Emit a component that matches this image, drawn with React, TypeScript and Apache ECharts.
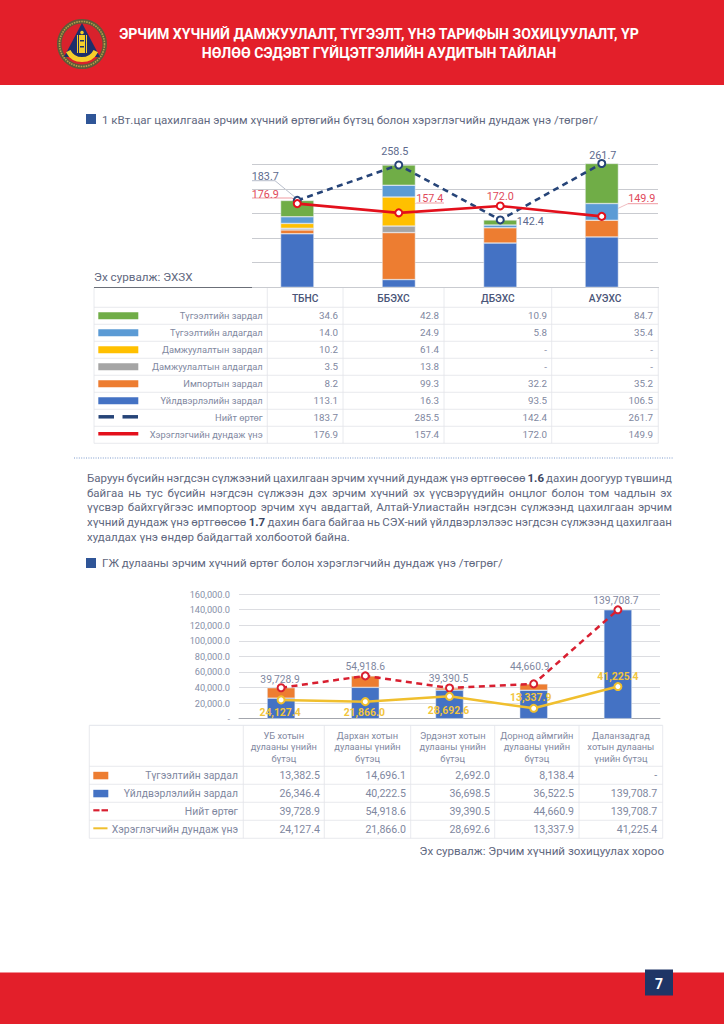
import React, { useEffect, useRef } from "react";
import * as echarts from "echarts";

const FONT = "Roboto";
const INK = "#7f889f";
const DARK = "#5f6880";

// ---- chart 1 data
const plants = ["ТБНС", "ББЭХС", "ДБЭХС", "АУЭХС"];
const supplyCost = [34.6, 42.8, 10.9, 84.7];
const supplyLoss = [14.0, 24.9, 5.8, 35.4];
const transCost = [10.2, 61.4, null, null];
const transLoss = [3.5, 13.8, null, null];
const importCost = [8.2, 99.3, 32.2, 35.2];
const prodCost = [113.1, 16.3, 93.5, 106.5];
const totalCost = [183.7, 258.5, 142.4, 261.7];
const totalCostTable = [183.7, 285.5, 142.4, 261.7];
const avgPrice = [176.9, 157.4, 172.0, 149.9];

// ---- chart 2 data
const heatHeaders = [
  ["УБ хотын", "дулааны үнийн", "бүтэц"],
  ["Дархан хотын", "дулааны үнийн", "бүтэц"],
  ["Эрдэнэт хотын", "дулааны үнийн", "бүтэц"],
  ["Дорнод аймгийн", "дулааны үнийн", "бүтэц"],
  ["Даланзадгад", "хотын дулааны", "үнийн бүтэц"],
];
const heatSupply = [13382.5, 14696.1, 2692.0, 8138.4, null];
const heatProd = [26346.4, 40222.5, 36698.5, 36522.5, 139708.7];
const heatTotal = [39728.9, 54918.6, 39390.5, 44660.9, 139708.7];
const heatAvg = [24127.4, 21866.0, 28692.6, 13337.9, 41225.4];

// ---- text
const TITLE = [
  "ЭРЧИМ ХҮЧНИЙ ДАМЖУУЛАЛТ, ТҮГЭЭЛТ, ҮНЭ ТАРИФЫН ЗОХИЦУУЛАЛТ, ҮР",
  "НӨЛӨӨ СЭДЭВТ ГҮЙЦЭТГЭЛИЙН АУДИТЫН ТАЙЛАН",
];
const HEAD1 = "1 кВт.цаг цахилгаан эрчим хүчний өртөгийн бүтэц болон хэрэглэгчийн дундаж үнэ /төгрөг/";
const HEAD2 = "ГЖ дулааны эрчим хүчний өртөг болон хэрэглэгчийн дундаж үнэ /төгрөг/";
const PARAGRAPH = [
  "Баруун бүсийн нэгдсэн сүлжээний цахилгаан эрчим хүчний дундаж үнэ өртгөөсөө 1.6 дахин доогуур түвшинд",
  "байгаа нь тус бүсийн нэгдсэн сүлжээн дэх эрчим хүчний эх үүсвэрүүдийн онцлог болон том чадлын эх",
  "үүсвэр байхгүйгээс импортоор эрчим хүч авдагтай, Алтай-Улиастайн нэгдсэн сүлжээнд цахилгаан эрчим",
  "хүчний дундаж үнэ өртгөөсөө 1.7 дахин бага байгаа нь СЭХ-ний үйлдвэрлэлээс нэгдсэн сүлжээнд цахилгаан",
  "худалдах үнэ өндөр байдагтай холбоотой байна.",
];
const BOLD_WORDS = ["1.6", "1.7"];

// ---- label placement (styling only)
const totalOffsets = [[-32, -14], [-4, -3.5], [30, 11.6], [1, 2]];
const avgOffsets = [[-32, 0.7], [31, -4.4], [0, 0.6], [40, -7.9]];
const heatTotalOffsets = [[-1, 1.3], [0, 0.1], [-1, 0], [-4, -7.9], [-2, 0.2]];
const heatAvgOffsets = [[-1, 22.6], [-1, 20.3], [-1, 23.5], [-3, -1.3], [0, -0.6]];

const C = {
  green: "#70ad47", lblue: "#5b9bd5", yellow: "#ffc000", grey: "#a5a5a5",
  orange: "#ed7d31", blue: "#4472c4", navy: "#264478", red: "#e3101c",
  gold: "#f0bf2e", crimson: "#d81f30",
};

const fmt1 = (v: number | null) => (v == null ? "-" : v.toFixed(1));
const fmtK = (v: number | null) =>
  v == null ? "-" : v.toLocaleString("en-US", { minimumFractionDigits: 1, maximumFractionDigits: 1 });

function txt(x: number, y: number, text: string, o: any = {}) {
  return {
    type: "text", x, y, silent: true,
    style: {
      text, fontFamily: FONT, fontSize: o.size ?? 10, fontWeight: o.weight ?? 400,
      fill: o.color ?? INK, align: o.align ?? "left", verticalAlign: "middle",
    },
  };
}
const rect = (x: number, y: number, w: number, h: number, fill: string) => ({
  type: "rect", silent: true, shape: { x, y, width: w, height: h }, style: { fill },
});
const line = (x1: number, y1: number, x2: number, y2: number, stroke: string, lineWidth = 0.8, lineDash?: number[]) => ({
  type: "line", silent: true, shape: { x1, y1, x2, y2 }, style: { stroke, lineWidth, lineDash },
});
const poly = (points: number[][], stroke = "#9aa2b5") => ({
  type: "polyline", silent: true, shape: { points }, style: { stroke, lineWidth: 0.7, fill: "none" },
});

function justified(lines: string[], x0: number, x1: number, yTop: number, step: number, size: number) {
  const ctx = document.createElement("canvas").getContext("2d") as CanvasRenderingContext2D;
  const out: any[] = [];
  lines.forEach((ln, i) => {
    const words = ln.split(" ");
    const widths = words.map((w) => {
      ctx.font = `${BOLD_WORDS.includes(w) ? 700 : 400} ${size}px ${FONT}`;
      return ctx.measureText(w).width;
    });
    const sum = widths.reduce((a, b) => a + b, 0);
    ctx.font = `400 ${size}px ${FONT}`;
    const space = ctx.measureText(" ").width;
    const last = i === lines.length - 1;
    const gap = last ? space : (x1 - x0 - sum) / (words.length - 1);
    let x = x0;
    words.forEach((w, k) => {
      const b = BOLD_WORDS.includes(w);
      out.push(txt(x, yTop + i * step, w, { size, color: b ? "#3b4560" : DARK, weight: b ? 700 : 400 }));
      x += widths[k] + gap;
    });
  });
  return out;
}

function buildGraphic() {
  const g: any[] = [];
  // header, footer
  g.push(rect(0, 0, 724, 85, "#e31f2a"));
  g.push(rect(0, 972.5, 724, 52, "#e31f2a"));
  g.push(rect(645, 969.5, 28, 26, "#1f3566"));
  g.push(txt(659, 984, "7", { size: 14, weight: 700, color: "#ffffff", align: "center" }));
  TITLE.forEach((t, i) =>
    g.push(txt(379, 34 + i * 19, t, { size: 14.1, weight: 700, color: "#ffffff", align: "center" })));

  // emblem
  const cx = 82, cy = 44;
  g.push({ type: "circle", silent: true, shape: { cx, cy, r: 25 }, style: { fill: "#5f5a38" } });
  g.push({ type: "circle", silent: true, shape: { cx, cy, r: 22.5 }, style: { fill: "none", stroke: "#b5a24a", lineWidth: 1.6, lineDash: [1.5, 1] } });
  g.push({ type: "circle", silent: true, shape: { cx, cy, r: 20.5 }, style: { fill: "#d8222c" } });
  g.push({ type: "polygon", silent: true, shape: { points: [[cx, cy - 21], [cx + 18, cy + 13], [cx - 18, cy + 13]] }, style: { fill: "#1d2f6b" } });
  g.push({ type: "arc", silent: true, shape: { cx, cy, r: 15.5, startAngle: Math.PI * 0.15, endAngle: Math.PI * 0.85, clockwise: true }, style: { stroke: "#f5cf2a", lineWidth: 5, fill: "none" } });
  g.push(rect(cx - 3, cy - 9, 6, 18, "#f5cf2a"));
  g.push(rect(cx - 5, cy - 9, 1, 18, "#f5cf2a"));
  g.push(rect(cx + 4, cy - 9, 1, 18, "#f5cf2a"));
  g.push({ type: "circle", silent: true, shape: { cx, cy: cy - 11.5, r: 1.8 }, style: { fill: "#f5cf2a" } });
  g.push(rect(cx - 2, cy - 4, 4, 1.5, "#1d2f6b"));
  g.push(rect(cx - 2, cy + 2, 4, 1.5, "#1d2f6b"));

  // headings
  g.push(rect(86, 114, 10, 10, "#2f5597"));
  g.push(txt(102, 120, HEAD1, { size: 11.55, color: DARK }));
  g.push(rect(86, 558, 10, 10, "#2f5597"));
  g.push(txt(102, 563, HEAD2, { size: 11.55, color: DARK }));
  g.push(txt(94, 277, "Эх сурвалж: ЭХЗХ", { size: 11.7, color: DARK }));

  // ---- table 1
  const cols1 = [94, 267.3, 343, 444, 551.7, 658.3];
  const rowTop1 = 307.3, rowH1 = 17, border = "#e2e4ea";
  const rows1: { label: string; vals: (number | null)[]; kind: string; color: string }[] = [
    { label: "Түгээлтийн зардал", vals: supplyCost, kind: "bar", color: C.green },
    { label: "Түгээлтийн алдагдал", vals: supplyLoss, kind: "bar", color: C.lblue },
    { label: "Дамжуулалтын зардал", vals: transCost, kind: "bar", color: C.yellow },
    { label: "Дамжуулалтын алдагдал", vals: transLoss, kind: "bar", color: C.grey },
    { label: "Импортын зардал", vals: importCost, kind: "bar", color: C.orange },
    { label: "Үйлдвэрлэлийн зардал", vals: prodCost, kind: "bar", color: C.blue },
    { label: "Нийт өртөг", vals: totalCostTable, kind: "dash", color: C.navy },
    { label: "Хэрэглэгчийн дундаж үнэ", vals: avgPrice, kind: "line", color: C.red },
  ];
  cols1.forEach((x) => g.push(line(x, 287.5, x, rowTop1 + 8 * rowH1, border)));
  for (let i = 0; i <= 8; i++) g.push(line(94, rowTop1 + i * rowH1, 658.3, rowTop1 + i * rowH1, border));
  g.push(line(94, 287.5, 658.3, 287.5, "#6b6f78", 1));
  plants.forEach((p, i) =>
    g.push(txt((cols1[i + 1] + cols1[i + 2]) / 2, 298, p, { size: 10.2, weight: 500, color: "#4a5578", align: "center" })));
  rows1.forEach((r, i) => {
    const cy = rowTop1 + (i + 0.5) * rowH1;
    if (r.kind === "bar") g.push(rect(98.3, cy - 3.5, 40, 7, r.color));
    else if (r.kind === "dash") {
      g.push(line(98.5, cy - 1, 114, cy - 1, r.color, 3.5));
      g.push(line(122.5, cy - 1, 138, cy - 1, r.color, 3.5));
    } else g.push(line(98.3, cy - 1, 138.3, cy - 1, r.color, 3.5));
    g.push(txt(262.7, cy, r.label, { size: 9.3, align: "right" }));
    r.vals.forEach((v, k) => {
      const right = [338, 439, 547, 653][k];
      g.push(txt(right, cy, fmt1(v), { size: 9.8, align: "right" }));
    });
  });

  // leader lines chart 1
  g.push(poly([[252, 180.7], [275, 180.7], [296, 198]]));
  g.push(poly([[252, 198], [292, 198], [297, 202]], "#e8707a"));
  g.push(poly([[416.7, 203], [444, 203]], "#e8707a"));
  g.push(poly([[416.7, 203], [399, 212]], "#e8a0a6"));
  g.push(poly([[628, 203.7], [658, 203.7]], "#e8707a"));
  g.push(poly([[628, 203.7], [604, 215]], "#e8a0a6"));

  // dotted separator and paragraph
  g.push(line(74, 458, 674, 458, "#7e9bcc", 1.2, [1, 1.4]));
  g.push(...justified(PARAGRAPH, 87, 672, 478, 14.7, 11.5));

  // ---- table 2
  const cols2 = [89.3, 243.3, 324.3, 410.7, 494.7, 579, 662.7];
  const rights2 = [320, 406, 490, 574, 657.3];
  const top2 = 725.3, headBottom = 766.3, rowH2 = 18;
  cols2.forEach((x) => g.push(line(x, top2, x, headBottom + 4 * rowH2, border)));
  g.push(line(89.3, top2, 662.7, top2, border, 1));
  for (let i = 0; i <= 4; i++) g.push(line(89.3, headBottom + i * rowH2, 662.7, headBottom + i * rowH2, border));
  heatHeaders.forEach((h, i) => h.forEach((t, k) =>
    g.push(txt((cols2[i + 1] + cols2[i + 2]) / 2, 735 + k * 11.7, t, { size: 9.3, align: "center" }))));
  const rows2: { label: string; vals: (number | null)[]; kind: string; color: string }[] = [
    { label: "Түгээлтийн зардал", vals: heatSupply, kind: "bar", color: C.orange },
    { label: "Үйлдвэрлэлийн зардал", vals: heatProd, kind: "bar", color: C.blue },
    { label: "Нийт өртөг", vals: heatTotal, kind: "dash", color: C.crimson },
    { label: "Хэрэглэгчийн дундаж үнэ", vals: heatAvg, kind: "line", color: C.gold },
  ];
  rows2.forEach((r, i) => {
    const cy = headBottom + (i + 0.5) * rowH2;
    if (r.kind === "bar") g.push(rect(93.3, cy - 3.5, 15, 7.5, r.color));
    else if (r.kind === "dash") {
      g.push(line(93.3, cy - 1, 99.5, cy - 1, r.color, 2.2));
      g.push(line(101.5, cy - 1, 108, cy - 1, r.color, 2.2));
    } else g.push(line(93.3, cy - 1, 107.5, cy - 1, r.color, 2));
    g.push(txt(238, cy, r.label, { size: 10.4, align: "right" }));
    r.vals.forEach((v, k) => g.push(txt(rights2[k], cy, fmtK(v), { size: 10.6, align: "right" })));
  });
  g.push(txt(664, 851, "Эх сурвалж: Эрчим хүчний зохицуулах хороо", { size: 11.6, color: DARK, align: "right" }));
  return g;
}

const stack = (name: string, data: (number | null)[], color: string, axis: number) => ({
  name, type: "bar", stack: "s" + axis, xAxisIndex: axis, yAxisIndex: axis, data,
  barWidth: axis === 1 ? 33.3 : 28, clip: false, silent: true,
  itemStyle: { color, borderColor: "#e9edf3", borderWidth: 0.5 },
});

const labelled = (vals: number[], offsets: number[][], color: string, size: number, weight: number, fmt: (v: number) => string) =>
  vals.map((value, i) => ({
    value,
    label: {
      show: true, position: "top", distance: 0, offset: offsets[i], formatter: fmt(value),
      color, fontSize: size, fontWeight: weight, fontFamily: FONT,
    },
  }));

const lineSeries = (name: string, data: any[], color: string, axis: number, dashed: boolean, w: number) => ({
  name, type: "line", xAxisIndex: axis, yAxisIndex: axis, data, clip: false, silent: true,
  symbol: "circle", symbolSize: 7,
  lineStyle: { color, width: w, type: dashed ? [6, 4.5] : "solid" },
  itemStyle: { color: "#ffffff", borderColor: color, borderWidth: 2 },
  z: dashed ? 4 : 5,
});

export default function App() {
  const ref = useRef<HTMLDivElement>(null);
  useEffect(() => {
    document.body.style.margin = "0";
    document.body.style.background = "#ffffff";
    const chart = echarts.init(ref.current as HTMLDivElement, undefined, { renderer: "svg" });
    const hiddenX = (data: string[], gridIndex: number, show = false) => ({
      type: "category", data, gridIndex,
      axisLine: { show, lineStyle: { color: "#a3a6ad", width: 1 } },
      axisTick: { show: false }, axisLabel: { show: false }, splitLine: { show: false },
    });
    const grid1Lines = { left: 252, width: 406, top: 164.3, height: 123 };
    const grid1Bars = { left: 246.5, width: 406, top: 164.3, height: 123 };
    const grid2 = { left: 239, width: 421, top: 594, height: 124.7 };
    chart.setOption({
      animation: false,
      backgroundColor: "#ffffff",
      textStyle: { fontFamily: FONT },
      graphic: { elements: buildGraphic() },
      grid: [grid1Lines, grid1Bars, grid2],
      xAxis: [hiddenX(plants, 0), hiddenX(plants, 1), hiddenX(heatHeaders.map((h) => h.join(" ")), 2, true)],
      yAxis: [
        {
          type: "value", gridIndex: 0, min: 0, max: 260, interval: 52,
          axisLine: { show: false }, axisTick: { show: false }, axisLabel: { show: false },
          splitLine: { lineStyle: { color: "#c9cbd0", width: 1 } },
        },
        {
          type: "value", gridIndex: 1, min: 0, max: 260, interval: 52,
          axisLine: { show: false }, axisTick: { show: false }, axisLabel: { show: false }, splitLine: { show: false },
        },
        {
          type: "value", gridIndex: 2, min: 0, max: 160000, interval: 20000,
          axisLine: { show: false }, axisTick: { show: false },
          axisLabel: {
            color: "#8790a8", fontSize: 9.2, fontFamily: FONT, margin: 9,
            formatter: (v: number) => (v === 0 ? "-" : fmtK(v)),
          },
          splitLine: { lineStyle: { color: "#dcdde1", width: 1 } },
        },
      ],
      series: [
        stack("Үйлдвэрлэлийн зардал", prodCost, C.blue, 1),
        stack("Импортын зардал", importCost, C.orange, 1),
        stack("Дамжуулалтын алдагдал", transLoss, C.grey, 1),
        stack("Дамжуулалтын зардал", transCost, C.yellow, 1),
        stack("Түгээлтийн алдагдал", supplyLoss, C.lblue, 1),
        stack("Түгээлтийн зардал", supplyCost, C.green, 1),
        lineSeries("Нийт өртөг", labelled(totalCost, totalOffsets, "#5d6a8e", 10.8, 400, fmt1), C.navy, 1, true, 2.6),
        lineSeries("Хэрэглэгчийн дундаж үнэ", labelled(avgPrice, avgOffsets, "#e0495a", 10.8, 400, fmt1), C.red, 1, false, 2.6),
        stack("Үйлдвэрлэлийн зардал ", heatProd, C.blue, 2),
        stack("Түгээлтийн зардал ", heatSupply, C.orange, 2),
        lineSeries("Нийт өртөг ", labelled(heatTotal, heatTotalOffsets, "#7f889f", 10.3, 400, fmtK), C.crimson, 2, true, 2.5),
        lineSeries("Хэрэглэгчийн дундаж үнэ ", labelled(heatAvg, heatAvgOffsets, "#f2c53d", 10.4, 700, fmtK), C.gold, 2, false, 2.5),
      ],
    });
    return () => chart.dispose();
  }, []);
  return <div ref={ref} style={{ position: "absolute", left: 0, top: 0, width: 724, height: 1024 }} />;
}
